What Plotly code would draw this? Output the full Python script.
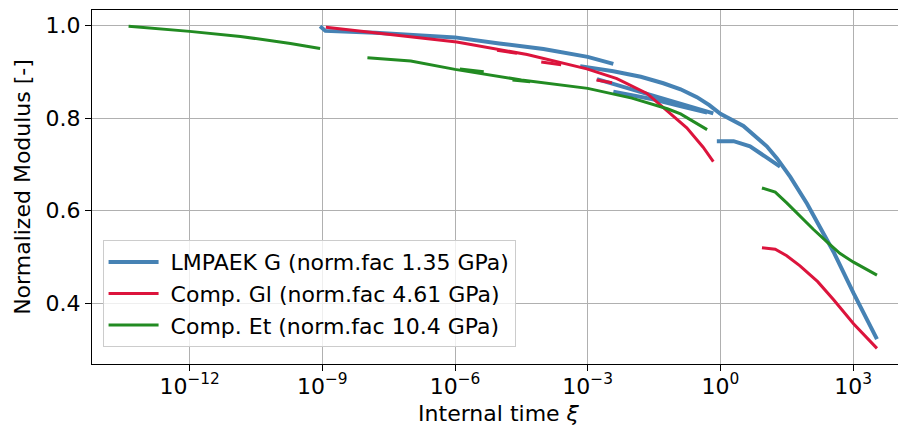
import numpy as np
import plotly.graph_objects as go

# ---- data: log10(internal time) and normalized modulus ----
# LMPAEK G (blue) segments
B1_logxi = [-9.05, -8.93, -7.8, -6.0, -5.0, -4.0, -3.0, -2.42]
B1_mod   = [0.998, 0.988, 0.984, 0.974, 0.961, 0.949, 0.932, 0.917]
B2_logxi = [-3.17, -2.42, -1.8, -1.29, -0.9, -0.53, -0.25, 0.0, 0.52, 1.05, 1.28, 1.58, 1.96, 2.56, 3.01, 3.54]
B2_mod   = [0.912, 0.901, 0.889, 0.875, 0.862, 0.845, 0.828, 0.809, 0.783, 0.739, 0.713, 0.673, 0.615, 0.511, 0.422, 0.323]
B3_logxi = [-2.79, -1.66, -0.91, -0.16]
B3_mod   = [0.884, 0.853, 0.832, 0.810]
B4_logxi = [-2.42, -1.5, -0.91, -0.3]
B4_mod   = [0.857, 0.840, 0.826, 0.812]
B5_logxi = [-0.08, 0.30, 0.67, 1.13, 1.35]
B5_mod   = [0.750, 0.750, 0.739, 0.709, 0.695]

# Comp. Gl (red) segments
R1_logxi = [-8.92, -7.39, -5.96, -4.37, -3.02, -2.34, -1.66, -1.21, -0.76, -0.39, -0.16]
R1_mod   = [0.996, 0.979, 0.964, 0.937, 0.906, 0.885, 0.853, 0.816, 0.779, 0.737, 0.706]
R2_logxi = [-5.05, -4.6]
R2_mod   = [0.946, 0.940]
R3_logxi = [-4.05, -3.6]
R3_mod   = [0.921, 0.915]
R4_logxi = [-2.8, -2.45]
R4_mod   = [0.882, 0.876]
R5_logxi = [0.94, 1.24, 1.50, 1.80, 2.20, 2.56, 3.01, 3.54]
R5_mod   = [0.520, 0.517, 0.503, 0.481, 0.447, 0.408, 0.356, 0.303]

# Comp. Et (green) segments
G1_logxi = [-13.38, -12.0, -10.85, -9.72, -9.05]
G1_mod   = [0.998, 0.987, 0.976, 0.961, 0.950]
G2_logxi = [-7.98, -7.0, -6.0, -4.5, -3.0, -2.0, -1.2, -0.9, -0.3]
G2_mod   = [0.930, 0.923, 0.905, 0.882, 0.864, 0.843, 0.820, 0.809, 0.775]
G3_logxi = [-5.89, -5.35]
G3_mod   = [0.906, 0.900]
G4_logxi = [-4.7, -4.3]
G4_mod   = [0.882, 0.878]
G5_logxi = [0.94, 1.24, 1.50, 1.80, 2.10, 2.41, 2.70, 3.01, 3.54]
G5_mod   = [0.649, 0.640, 0.617, 0.588, 0.560, 0.533, 0.508, 0.489, 0.461]

series_names = ["LMPAEK G (norm.fac 1.35 GPa)",
                "Comp. Gl (norm.fac 4.61 GPa)",
                "Comp. Et (norm.fac 10.4 GPa)"]
x_tick_exps = [-12, -9, -6, -3, 0, 3]
y_ticks = [0.4, 0.6, 0.8, 1.0]


def join(segs):
    xs, ys = [], []
    for lx, m in segs:
        xs += list(np.power(10.0, lx)) + [None]
        ys += list(m) + [None]
    return xs, ys


blue = join([(B1_logxi, B1_mod), (B2_logxi, B2_mod), (B3_logxi, B3_mod),
             (B4_logxi, B4_mod), (B5_logxi, B5_mod)])
red = join([(R1_logxi, R1_mod), (R2_logxi, R2_mod), (R3_logxi, R3_mod),
            (R4_logxi, R4_mod), (R5_logxi, R5_mod)])
green = join([(G1_logxi, G1_mod), (G2_logxi, G2_mod), (G3_logxi, G3_mod),
              (G4_logxi, G4_mod), (G5_logxi, G5_mod)])

colors = ["#4682B4", "#DC143C", "#228B22"]
FONT = "DejaVu Sans"
FS = 22

fig = go.Figure()
for (xs, ys), name, c, w in zip([blue, red, green], series_names, colors, [4, 3, 3]):
    fig.add_trace(go.Scatter(x=xs, y=ys, mode="lines", name="\u00a0" + name,
                             line=dict(color=c, width=w), connectgaps=False))

# page body has an 8px margin: figure is 898x418, placed at (8,8)
fig.update_layout(
    width=898, height=418,
    margin=dict(l=84, r=1, t=2, b=62),
    paper_bgcolor="white", plot_bgcolor="white",
    font=dict(family=FONT, size=FS, color="black"),
    showlegend=True,
    legend=dict(x=0.013, y=0.35, xanchor="left", yanchor="top",
                bgcolor="rgba(255,255,255,0.8)", bordercolor="#cccccc", borderwidth=1,
                font=dict(family=FONT, size=FS), tracegroupgap=0, itemwidth=50),
)
fig.update_xaxes(
    type="log", range=[-14.207, 4.174], automargin=False,
    tickvals=[10.0 ** e for e in x_tick_exps],
    ticktext=["10<sup>%s</sup>" % (str(e).replace("-", "\u2212")) for e in x_tick_exps],
    ticklabelstandoff=-4,
    showgrid=True, gridcolor="#b0b0b0", gridwidth=1.3,
    showline=True, linecolor="black", linewidth=1.3, mirror=True,
    ticks="outside", ticklen=6, tickwidth=1.3, tickcolor="black",
    title=dict(text="Internal time <i>ξ</i>", font=dict(size=FS), standoff=10),
    zeroline=False,
)
fig.update_yaxes(
    range=[0.2693, 1.0331], automargin=False,
    tickvals=y_ticks, ticktext=["%.1f" % v for v in y_ticks],
    showgrid=True, gridcolor="#b0b0b0", gridwidth=1.3,
    showline=True, linecolor="black", linewidth=1.3, mirror=False,
    ticks="outside", ticklen=6, tickwidth=1.3, tickcolor="black",
    title=dict(text="Normalized Modulus [-]", font=dict(size=FS), standoff=8),
    zeroline=False,
)

fig.write_html("out.html")
